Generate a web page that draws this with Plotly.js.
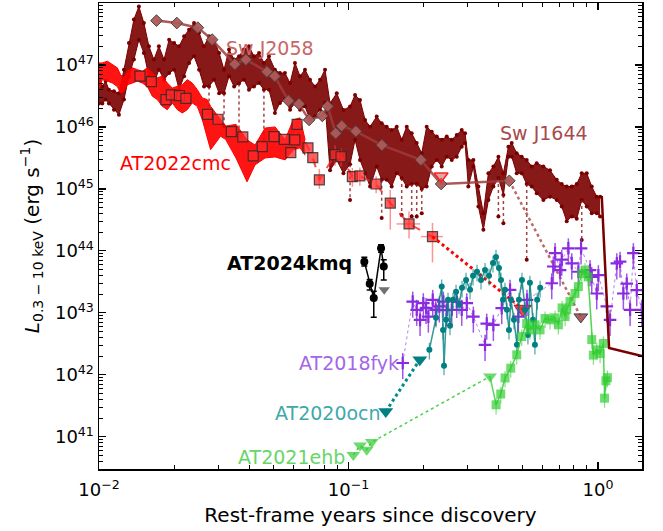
<!DOCTYPE html>
<html><head><meta charset="utf-8">
<script src="https://cdn.plot.ly/plotly-3.0.1.min.js"></script>
<style>html,body{margin:0;padding:0;background:#fff}#chart{width:663px;height:531px}</style>
</head><body><div id="chart"></div>
<script>
// ---- Sw J1644 light-curve envelope (rest-frame years, erg/s)
const j1644_t = [0.0100,0.01031,0.01063,0.01096,0.01148,0.01202,0.01259,0.01318,0.01380,0.01445,
 0.01513,0.01585,0.0166,0.01738,0.01823,0.0191,0.0200,0.02094,0.02193,0.02296,
 0.02404,0.02518,0.02636,0.0276,0.0289,0.0303,0.0317,0.0332,0.0348,0.0364,
 0.0381,0.0399,0.0418,0.0438,0.0458,0.048,0.0507,0.0531,0.0556,0.0583,
 0.0610,0.0639,0.0669,0.0701,0.0734,0.0769,0.0805,0.0843,0.0897,0.0954,
 0.1014,0.1062,0.1112,0.1165,0.1220,0.1297,0.1358,0.1422,0.1489,0.1560,
 0.1633,0.1711,0.1791,0.1876,0.1965,0.2057,0.2155,0.2257,0.2363,0.2475,
 0.2592,0.2714,0.2842,0.2931,0.3021,0.3165,0.3314,0.3471,0.3635,0.3806,
 0.3987,0.4175,0.4372,0.4508,0.4721,0.4943,0.5177,0.5421,0.5677,0.6037,
 0.6420,0.6830,0.7151,0.7489,0.7843,0.8213,0.8601,0.9007,0.9434,0.9879,1.019];
const j1644_hi = [5.8e46,4.5e46,5.5e46,4.0e46,3.76e46,3.5e46,8.4e46,2.26e47,5.4e47,8.8e47,
 4.75e47,2.0e47,1.22e47,2.0e47,1.22e47,2.56e47,2.26e47,2.0e47,2.9e47,3.7e47,
 4.75e47,3.3e47,2.0e47,2.9e47,2.56e47,1.56e47,8.4e46,1.77e47,1.22e47,1.38e47,
 1.77e47,2.0e47,1.38e47,1.56e47,1.08e47,1.38e47,8.4e46,7.4e46,7.4e46,5.1e46,
 1.08e47,6.6e46,8.4e46,5.8e46,4.5e46,5.8e46,8.4e46,2.41e46,3.5e46,1.88e46,
 2.13e46,3.28e46,2.72e46,1.30e46,1.01e46,1.47e46,1.15e46,1.01e46,8.9e45,1.01e46,
 6.2e45,1.01e46,7.9e45,5.5e45,3.76e45,1.01e46,8.4e45,7.0e45,6.2e45,7.0e45,
 6.2e45,7.4e45,8.9e45,7.9e45,2.94e45,2.94e45,1.09e45,4.05e44,1.79e45,2.3e45,
 3.3e45,1.79e45,4.8e45,5.5e45,3.76e45,3.3e45,2.94e45,2.3e45,2.6e45,2.3e45,
 2.0e45,1.4e45,1.2e45,1.09e45,1.09e45,1.2e45,1.79e45,1.79e45,1.09e45,7.5e44,7.5e44];
const j1644_lo = [2.4e46,2.4e46,2.76e46,2.4e46,1.9e46,1.58e46,2.76e46,6.6e46,1.22e47,2.56e47,
 1.56e47,6.6e46,5.1e46,8.4e46,5.8e46,7.4e46,8.4e46,4.0e46,6.6e46,1.08e47,
 1.38e47,8.4e46,4.5e46,4.5e46,5.8e46,3.5e46,3.5e46,6.6e46,4.5e46,5.0e46,
 5.8e46,4.0e46,4.5e46,5.1e46,4.0e46,4.0e46,1.68e46,2.44e46,2.76e46,1.9e46,
 2.44e46,1.9e46,2.15e46,1.31e46,1.49e46,1.9e46,2.44e46,2.0e45,2.94e45,1.79e45,
 2.5e45,6.2e45,2.94e45,1.79e45,1.09e45,2.3e45,1.4e45,1.4e45,1.09e45,1.79e45,
 1.5e45,1.09e45,1.2e45,1.2e45,1.0e45,1.09e45,2.3e45,2.94e45,2.3e45,3.3e45,
 2.94e45,3.3e45,4.8e45,5.5e45,1.09e45,2.3e45,5.2e44,2.2e44,6.6e44,1.09e45,
 1.5e45,8.0e44,3.3e45,3.3e45,1.79e45,1.79e45,1.2e45,1.09e45,8.5e44,6.6e44,
 7.5e44,6.6e44,5.2e44,3.0e44,3.6e44,3.3e44,6.6e44,5.2e44,4.05e44,4.05e44,3.6e44];
// Sw J1644 deep dips (dotted drops below the dense envelope)
const j1644_spk_t   = [0.0276,0.0317,0.0364,0.0458,0.1014,0.1358,0.1633,0.1791,0.1876,0.1965,0.3987,0.4175,0.5177,0.8601];
const j1644_spk_top = [4.5e46,3.5e46,5.0e46,4.0e46,2.5e45,1.4e45,1.5e45,1.2e45,1.2e45,1.0e45,1.5e45,8.0e44,1.2e45,6.6e44];
const j1644_spk_bot = [1.7e46,1.03e46,7.1e45,5.5e45,6.6e44,3.4e44,3.8e44,3.6e44,3.6e44,4.05e44,3.6e44,2.8e44,7.2e43,1.5e44];
// Sw J1644 final drop
const j1644_drop_t = [1.019,1.035,1.107,1.5];
const j1644_drop_L = [7.5e44,7.4e44,2.7e42,2.0e42];

// ---- AT2022cmc dense light curve envelope
const cmcb_t = [0.0100,0.01031,0.0108,0.01131,0.01184,0.0122,0.01259,0.01299,0.01361,0.01425,
 0.01492,0.01562,0.01636,0.01713,0.01794,0.01879,0.01967,0.0206,0.02157,0.02259,
 0.02365,0.02477,0.02594,0.02716,0.028,0.02932,0.0307,0.03216,0.0354,0.0392,
 0.0422,0.0463,0.0508,0.0557,0.060,0.0639,0.0670];
const cmcb_hi = [1.08e47,1.08e47,1.15e47,1.01e47,9.0e46,7.0e46,6.2e46,7.9e46,9.0e46,8.4e46,
 7.9e46,9.0e46,7.4e46,6.2e46,6.6e46,5.1e46,4.25e46,4.5e46,4.8e46,5.8e46,
 5.1e46,4.0e46,2.94e46,2.76e46,2.15e46,1.68e46,1.31e46,1.03e46,1.1e46,6.2e45,
 5.1e45,9.6e45,1.0e46,6.2e45,1.3e46,1.4e46,6.2e45];
const cmcb_lo = [4.0e46,5.8e46,5.5e46,5.1e46,4.5e46,3.5e46,3.76e46,4.8e46,5.1e46,5.5e46,
 5.1e46,4.5e46,3.13e46,2.76e46,2.15e46,1.9e46,2.44e46,1.9e46,1.68e46,1.9e46,
 2.44e46,2.15e46,1.31e46,7.1e45,4.3e45,5.5e45,7.1e45,6.3e45,3.16e45,1.3e45,
 2.44e45,3.16e45,3.28e45,2.94e45,4.25e45,4.6e45,3.5e45];
// AT2022cmc binned squares
const cmc_t = [0.0146,0.01621,0.01856,0.01949,0.0210,0.0223,0.0272,0.0300,0.0339,0.0377,
 0.0415,0.0451,0.0503,0.0553,0.0587,0.0609,0.0622,0.0688,0.0719,0.0764,
 0.0883,0.0933,0.1036,0.111,0.129,0.147,0.1748,0.217];
const cmc_L = [6.6e46,5.4e46,2.75e46,3.28e46,3.2e46,2.9e46,1.6e46,1.33e46,8.4e45,6.9e45,
 3.4e45,4.8e45,7.0e45,6.3e45,3.85e45,6.2e45,1.1e46,4.6e45,3.2e45,1.4e45,
 3.57e45,3.3e45,1.58e45,1.62e45,1.2e45,5.9e44,2.72e44,1.7e44];
const cmc_eup = [0,0,0,0,0,0,0,0,0,0, 0,0,0,0,0,0,0,0,0,7e44, 1.5e45,1.2e45,6e44,6e44,4e44,3.7e44,1.6e44,1.13e44];
const cmc_edn = [0,0,0,0,0,0,0,0,0,0, 0,0,0,0,0,0,0,0,0,4e44, 1.2e45,1.0e45,5e44,5e44,3.5e44,3.7e44,1.14e44,1.05e44];
const cmc_xerr = [0,0,0,0,0,0,0,0,0,0, 0,0,0,0,0,0,0,0,0,0, 0,0,0,0,0,0,0.019,0.022];
const cmc_ext_t = [0.217,0.499];
const cmc_ext_L = [1.7e44,1.15e43];
const cmc_ul_t = [0.499];
const cmc_ul_L = [1.15e43];

// ---- Sw J2058
const j2058_t = [0.0170,0.0205,0.0249,0.0284,0.0350,0.0388,0.0471,0.0506,0.0574,0.0633,
 0.0695,0.0785,0.0825,0.0888,0.0939,0.107,0.136,0.195,0.235,0.441];
const j2058_L = [5.2e47,4.75e47,4.0e47,2.56e47,1.03e47,1.22e47,7.8e46,6.6e46,2.65e46,2.35e46,
 1.30e46,1.51e46,2.16e46,7.9e45,1.04e46,8.5e45,5.1e45,2.94e45,1.2e45,1.35e45];
const j2058_ext_t = [0.441,0.853];
const j2058_ext_L = [1.35e45,8.6e42];
const j2058_ul_t = [0.853];
const j2058_ul_L = [8.6e42];
const j2058_ul2_t = [0.235];
const j2058_ul2_L = [1.62e45];

// ---- AT2024kmq
const kmq_t = [0.1157,0.1216,0.1262,0.1350,0.1384];
const kmq_L = [6.7e43,2.94e43,1.73e43,1.1e44,5.6e43];
const kmq_eup = [1.2e43,0.5e43,0.5e43,1.5e43,1.6e43];
const kmq_edn = [1.0e43,0.6e43,0.88e43,1.5e43,2.2e43];
const kmq_ul_t = [0.139];
const kmq_ul_L = [2.35e43];

// ---- AT2018fyk
const fyk_t = [0.1649,0.1808,0.1876,0.1935,0.1994,0.2045,0.2089,0.2175,0.2236,0.2311,
 0.2399,0.2474,0.2592,0.2714,0.2842,0.2977,0.3164,0.3524,0.358,0.3805,
 0.4111,0.4439,0.4794,0.519,0.6523,0.6618,0.6724,0.7043,0.7154,0.7603,
 0.7845,0.834,0.8548,0.9288,0.9434,0.988,1.003,1.084,1.117,1.189,
 1.225,1.263,1.303,1.344,1.385,1.429,1.497];
const fyk_L = [1.55e42,1.52e43,1.12e43,7.7e42,1.43e43,1.2e43,8.7e42,1.62e43,1.12e43,1.27e43,
 1.52e43,1.11e43,1.12e43,1.5e43,1.12e43,1.43e43,8.7e42,3.05e42,6.7e42,6.4e42,
 1.19e43,2.35e43,8.7e42,1.62e43,3.0e43,5.6e43,9.2e43,4.9e43,7.2e43,1.1e44,
 6.3e43,4.6e43,1.1e44,4.9e43,3.8e43,2.05e43,4.05e43,1.27e43,7.7e42,6.3e43,
 6.7e43,2.05e43,2.97e43,1.12e43,9.2e43,2.32e43,1.12e43];

// ---- AT2020ocn
const ocn_t = [0.2108,0.2242,0.2363,0.2392,0.2414,0.2459,0.2505,0.2551,0.2623,0.2697,
 0.2773,0.2850,0.2958,0.3069,0.3155,0.3273,0.3396,0.3524,0.3656,0.3793,
 0.3899,0.4008,0.4083,0.4159,0.4236,0.4315,0.4395,0.4477,0.4603,0.4732,
 0.4819,0.4955,0.5093,0.5236,0.5333,0.5483,0.5585,0.5702,0.5861];
const ocn_L = [2.53e42,8.3e42,2.65e43,5.3e42,1.4e42,7.7e42,1.62e43,6.2e42,1.62e43,2.18e43,
 1.35e43,2.53e43,3.4e43,2.35e43,3.95e43,4.6e43,3.4e43,4.9e43,3.95e43,6.4e43,
 8.0e43,5.3e43,3.4e43,1.62e43,2.35e43,1.12e43,5.3e42,1.62e43,7.7e42,3.05e42,
 1.62e43,3.4e43,1.12e43,4.4e42,3.05e43,7.7e42,3.05e42,1.62e43,2.53e43];
const ocn_ul_t = [0.141,0.193];
const ocn_ul_L = [2.56e41,1.75e42];

// ---- AT2021ehb
const ehb_ul_t = [0.1045,0.1112,0.1183,0.1239,0.369];
const ehb_ul_L = [5.1e40,7.2e40,6.2e40,8.2e40,9.4e41];
const ehb_t = [0.3903,0.4074,0.4239,0.4468,0.4722,0.4944,0.5177,0.5338,0.5589,0.5854,
 0.6131,0.642,0.6724,0.6934,0.7174,0.7376,0.7493,0.7723,0.8087,0.8339,
 0.8602,0.8869,0.9119,0.9434,0.9576,0.988,1.019,1.050,1.062,1.075,1.090];
const ehb_L = [3.28e41,4.9e41,8.9e41,1.28e42,2.1e42,4.15e42,6.7e42,5.3e42,6.4e42,5.3e42,
 8.1e42,7.7e42,8.3e42,6.4e42,1.2e43,8.7e42,1.12e43,1.52e43,2.05e43,2.65e43,
 4.3e43,4.9e43,3.8e43,3.7e42,2.08e42,2.53e42,2.2e42,3.2e42,4.2e41,8.0e41,9.0e41];

// axis ticks
const xTickVals = [0.01,0.1,1];
const xTickText = ['10<sup>\u22122</sup>','10<sup>\u22121</sup>','10<sup>0</sup>'];
const yTickVals = [1e41,1e42,1e43,1e44,1e45,1e46,1e47];
const yTickText = ['10<sup>41</sup>','10<sup>42</sup>','10<sup>43</sup>','10<sup>44</sup>','10<sup>45</sup>','10<sup>46</sup>','10<sup>47</sup>'];
const xMinor = []; for (let e=-2;e<=0;e++) for (let m=2;m<=9;m++) xMinor.push(m*Math.pow(10,e));
const yMinor = []; for (let e=40;e<=47;e++) for (let m=2;m<=9;m++) yMinor.push(m*Math.pow(10,e));

const DR = '#7a0000';
const traces = [];
// Sw J1644 band
traces.push({x:j1644_t, y:j1644_hi, mode:'lines+markers', line:{color:DR,width:1}, marker:{color:DR,size:4}});
traces.push({x:j1644_t, y:j1644_lo, mode:'lines+markers', line:{color:DR,width:1}, marker:{color:DR,size:4}, fill:'tonexty', fillcolor:'rgba(122,0,0,0.9)'});
// Sw J1644 dips as dotted drops
const spkX = [], spkY = [];
j1644_spk_t.forEach((t,i)=>{ spkX.push(t,t,null); spkY.push(j1644_spk_top[i], j1644_spk_bot[i], null); });
traces.push({x:spkX, y:spkY, mode:'lines', line:{color:'rgba(140,20,20,0.8)',width:1.5,dash:'dot'}, connectgaps:false});
traces.push({x:j1644_spk_t, y:j1644_spk_bot, mode:'markers', marker:{color:DR,size:4}});
// AT2022cmc band
traces.push({x:cmcb_t, y:cmcb_hi, mode:'lines', line:{color:'#ff0000',width:1}});
traces.push({x:cmcb_t, y:cmcb_lo, mode:'lines', line:{color:'#ff0000',width:1}, fill:'tonexty', fillcolor:'rgba(255,0,0,0.92)'});
// Sw J2058
traces.push({x:j2058_t, y:j2058_L, mode:'lines+markers', line:{color:'rgba(160,60,60,0.85)',width:2.5},
  marker:{symbol:'diamond', size:9, color:'rgba(175,90,90,0.95)', line:{color:'#444',width:1}}});
traces.push({x:j2058_ext_t, y:j2058_ext_L, mode:'lines', line:{color:'rgba(180,90,90,0.9)',width:2.5,dash:'dot'}});
traces.push({x:j2058_ul2_t, y:j2058_ul2_L, mode:'markers', marker:{symbol:'triangle-down', size:12, color:'rgba(200,110,110,0.6)', line:{color:'#ff2020',width:1.5}}});
traces.push({x:j2058_ul_t, y:j2058_ul_L, mode:'markers', marker:{symbol:'triangle-down', size:12, color:'rgba(160,80,80,0.9)', line:{color:'#444',width:1}}});
// AT2022cmc squares
traces.push({x:cmc_t, y:cmc_L, mode:'lines+markers', line:{color:'rgba(255,30,30,0.8)',width:2,dash:'dash'},
  marker:{symbol:'square', size:10, color:'rgba(255,40,40,0.75)', line:{color:'rgba(40,40,40,0.8)',width:1.2}},
  error_y:{type:'data', symmetric:false, array:cmc_eup, arrayminus:cmc_edn, color:'rgba(255,60,60,0.55)', thickness:1.5, width:0},
  error_x:{type:'data', array:cmc_xerr, color:'rgba(255,60,60,0.55)', thickness:1.5, width:0}});
traces.push({x:cmc_ext_t, y:cmc_ext_L, mode:'lines', line:{color:'#ff0000',width:3,dash:'dot'}});
traces.push({x:cmc_ul_t, y:cmc_ul_L, mode:'markers', marker:{symbol:'triangle-down', size:15, color:'rgba(230,40,40,0.85)', line:{color:'#aa2020',width:1}}});
// AT2018fyk
traces.push({x:fyk_t, y:fyk_L, mode:'lines+markers', line:{color:'rgba(138,43,226,0.6)',width:1,dash:'dot'},
  marker:{symbol:'cross-thin-open', size:9, color:'#8a2be2', line:{color:'#8a2be2',width:2.2}},
  error_y:{type:'percent', value:45, color:'rgba(138,43,226,0.8)', thickness:1.5, width:0}});
// AT2020ocn
traces.push({x:ocn_ul_t, y:ocn_ul_L, mode:'lines+markers', line:{color:'#008b8b',width:3,dash:'dot'},
  marker:{symbol:'triangle-down', size:13, color:'#008080'}});
traces.push({x:ocn_t, y:ocn_L, mode:'lines+markers', line:{color:'rgba(0,128,128,0.8)',width:1.5},
  marker:{symbol:'circle', size:6, color:'#008080'},
  error_y:{type:'percent', value:30, color:'rgba(0,128,128,0.7)', thickness:1.2, width:0}});
// AT2021ehb
traces.push({x:ehb_ul_t, y:ehb_ul_L, mode:'lines+markers', line:{color:'rgba(50,205,50,0.9)',width:1.5,dash:'dot'},
  marker:{symbol:'triangle-down', size:12, color:'rgba(60,205,60,0.75)'}});
traces.push({x:[ehb_ul_t[4], ehb_t[0]], y:[ehb_ul_L[4], ehb_L[0]], mode:'lines', line:{color:'rgba(50,205,50,0.8)',width:1.5}});
traces.push({x:ehb_t, y:ehb_L, mode:'lines+markers', line:{color:'rgba(50,205,50,0.85)',width:1.5},
  marker:{symbol:'square', size:9, color:'rgba(50,205,50,0.7)'},
  error_y:{type:'percent', value:30, color:'rgba(50,205,50,0.6)', thickness:1.2, width:0}});
// Sw J1644 drop
traces.push({x:j1644_drop_t, y:j1644_drop_L, mode:'lines', line:{color:DR,width:2.5}});
// AT2024kmq
traces.push({x:kmq_ul_t, y:kmq_ul_L, mode:'markers', marker:{symbol:'triangle-down', size:10, color:'#707070'}});
traces.push({x:kmq_t, y:kmq_L, mode:'lines+markers', line:{color:'black',width:1.5},
  marker:{symbol:'circle', size:8, color:'black'},
  error_y:{type:'data', symmetric:false, array:kmq_eup, arrayminus:kmq_edn, color:'black', thickness:1.5, width:3}});

traces.forEach(t=>{t.showlegend=false; t.hoverinfo='skip';});

const axisCommon = {type:'log', ticks:'inside', ticklen:7, tickwidth:1.2, tickcolor:'black',
  showline:true, linecolor:'black', linewidth:1.5, mirror:'allticks', showgrid:false, zeroline:false,
  tickmode:'array', tickfont:{family:'DejaVu Sans', size:18, color:'black'}};

const annFont = (c,s)=>({family:'DejaVu Sans', size:s||19, color:c});
const layout = {
  width:663, height:531,
  margin:{l:99, r:21, t:3, b:62},
  paper_bgcolor:'white', plot_bgcolor:'white',
  showlegend:false,
  font:{family:'DejaVu Sans', size:18, color:'black'},
  xaxis:Object.assign({}, axisCommon, {range:[-2, Math.log10(1.5)], tickvals:xTickVals, ticktext:xTickText,
    ticklabelstandoff:4,
    minor:{tickmode:'array', tickvals:xMinor, ticks:'inside', ticklen:4, tickwidth:1, tickcolor:'black', showgrid:false},
    title:{text:'Rest-frame years since discovery', font:{family:'DejaVu Sans', size:20, color:'black'}, standoff:9}}),
  yaxis:Object.assign({}, axisCommon, {range:[40.48, 48], tickvals:yTickVals, ticktext:yTickText,
    minor:{tickmode:'array', tickvals:yMinor, ticks:'inside', ticklen:4, tickwidth:1, tickcolor:'black', showgrid:false},
    title:{text:'<i>L</i><sub>0.3 \u2212 10 keV</sub> (erg s<sup>\u22121</sup>)', font:{family:'DejaVu Sans', size:20, color:'black'}, standoff:10}}),
  annotations:[
    {xref:'paper',yref:'paper',x:0.314,y:0.9034,text:'Sw J2058',showarrow:false,xanchor:'center',yanchor:'middle',font:annFont('#c86666')},
    {xref:'paper',yref:'paper',x:0.8195,y:0.7204,text:'Sw J1644',showarrow:false,xanchor:'center',yanchor:'middle',font:annFont('#a84a4a')},
    {xref:'paper',yref:'paper',x:0.1409,y:0.656,text:'AT2022cmc',showarrow:false,xanchor:'center',yanchor:'middle',font:annFont('#ff0000')},
    {xref:'paper',yref:'paper',x:0.35,y:0.4414,text:'<b>AT2024kmq</b>',showarrow:false,xanchor:'center',yanchor:'middle',font:annFont('#000000')},
    {xref:'paper',yref:'paper',x:0.4595,y:0.2268,text:'AT2018fyk',showarrow:false,xanchor:'center',yanchor:'middle',font:annFont('#a366e8')},
    {xref:'paper',yref:'paper',x:0.4223,y:0.1208,text:'AT2020ocn',showarrow:false,xanchor:'center',yanchor:'middle',font:annFont('#3fa9a9')},
    {xref:'paper',yref:'paper',x:0.3536,y:0.0264,text:'AT2021ehb',showarrow:false,xanchor:'center',yanchor:'middle',font:annFont('#66d666')}
  ]
};
Plotly.newPlot('chart', traces, layout, {staticPlot:true, displayModeBar:false});
</script>
</body></html>
